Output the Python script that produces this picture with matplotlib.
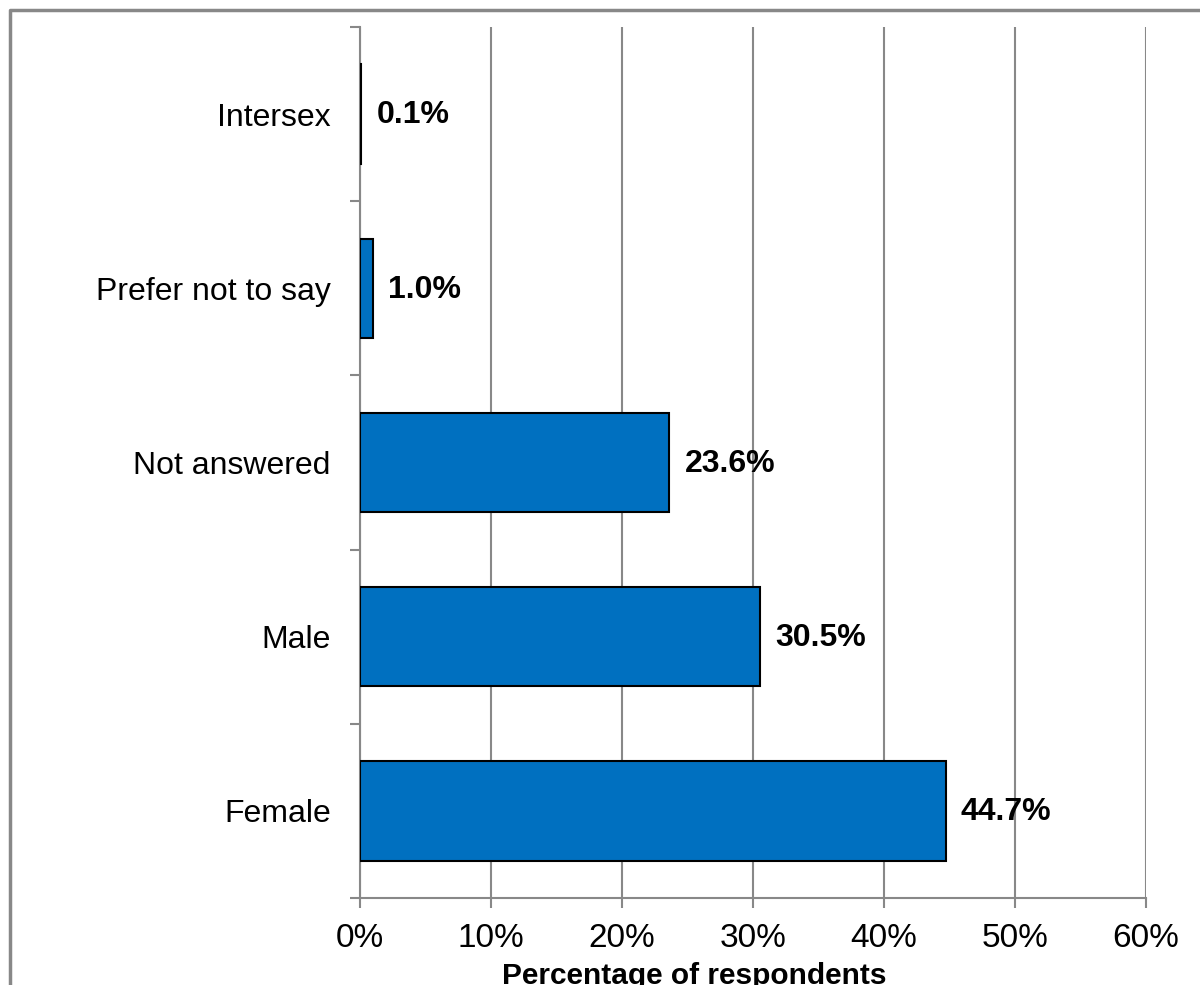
import numpy as np
import matplotlib
matplotlib.use("Agg")
import matplotlib.pyplot as plt
from matplotlib.lines import Line2D

# respondents by gender, bottom to top
categories = ["Female", "Male", "Not answered", "Prefer not to say", "Intersex"]
percentages = [44.7, 30.5, 23.6, 1.0, 0.1]
x_ticks = [0, 10, 20, 30, 40, 50, 60]

plt.rcParams['font.family'] = ['Liberation Sans', 'DejaVu Sans']
grey = '#888888'
bar_color = '#0070C0'
fs = 23

W, H = 1200, 985
fig = plt.figure(figsize=(W / 100, H / 100), dpi=100)
ax = fig.add_axes([360 / W, 1 - 898 / H, (1146 - 360) / W, (898 - 27) / H])

y = np.arange(len(categories))
ax.barh(y, percentages, height=0.57, color=bar_color, edgecolor='black', linewidth=1.5, zorder=3)

# value labels to the right of each bar
for yi, v in zip(y, percentages):
    ax.annotate(f"{v:.1f}%", xy=(v, yi), xytext=(11, -1), textcoords='offset points',
                ha='left', va='center', fontsize=fs, fontweight='bold')

ax.set_xlim(0, 60)
ax.set_ylim(-0.5, len(categories) - 0.5)

ax.set_xticks(x_ticks)
ax.set_xticklabels([f"{t}%" for t in x_ticks])
ax.xaxis.grid(True, color=grey, linewidth=1.5, zorder=0)
ax.set_axisbelow(True)

# category boundaries carry the tick marks, names sit at the centres
ax.set_yticks(np.arange(-0.5, len(categories), 1.0))
ax.set_yticklabels([])
ax.set_yticks(y, minor=True)
ax.set_yticklabels(categories, minor=True)
ax.tick_params(axis='y', which='minor', length=0, pad=21, labelsize=fs)
ax.tick_params(axis='y', which='major', length=7, width=1.5, color=grey)
ax.tick_params(axis='x', length=7, width=1.5, color=grey, labelsize=24, pad=11)

for side in ['top', 'right']:
    ax.spines[side].set_visible(False)
for side in ['left', 'bottom']:
    ax.spines[side].set_color(grey)
    ax.spines[side].set_linewidth(1.5)

ax.set_xlabel("Percentage of respondents", fontsize=21.5, fontweight='bold', labelpad=6)
ax.xaxis.label.set_x(0.425)

# chart area outline
fig.add_artist(Line2D([10 / W, 10 / W, 1.0], [0.0, 1 - 10 / H, 1 - 10 / H],
                      transform=fig.transFigure, color=grey, linewidth=2.5))

fig.savefig("out.png", dpi=100)
